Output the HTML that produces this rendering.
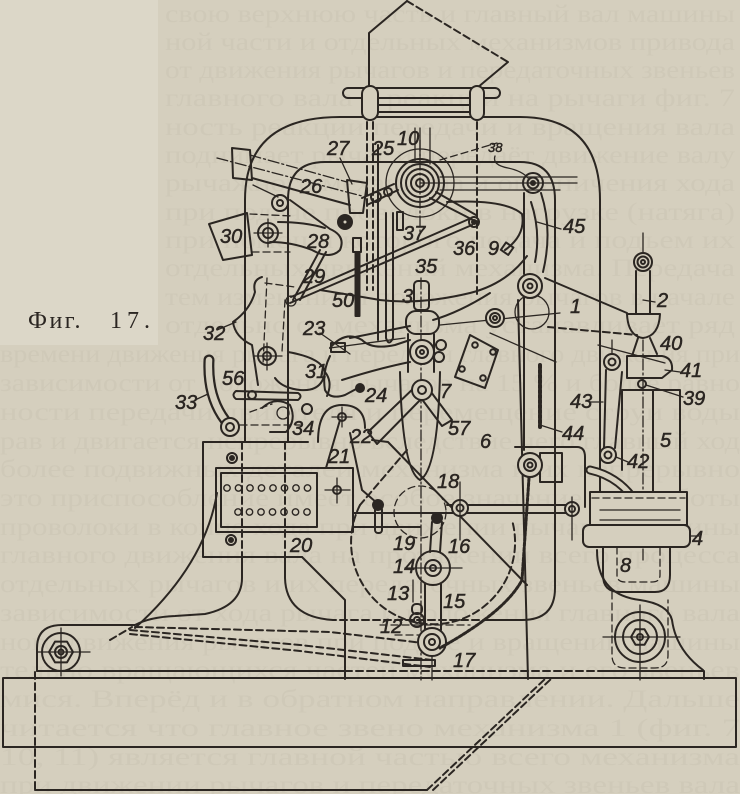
<!DOCTYPE html>
<html><head><meta charset="utf-8">
<style>
html,body{margin:0;padding:0;background:#d5cfbe;}
svg{display:block}
.d{stroke-dasharray:7 4}
.dd{stroke-dasharray:11 3 2 3}
.t{stroke-width:1.3}
</style></head><body>
<svg width="740" height="794" viewBox="0 0 740 794" xmlns="http://www.w3.org/2000/svg">
<rect width="740" height="794" fill="#d5cfbe"/>
<rect x="0" y="0" width="158" height="345" fill="#dcd7c8"/>
<g font-family="Liberation Serif, serif" font-size="25" fill="#cfc9b8">
<text x="165" y="22" textLength="570" lengthAdjust="spacingAndGlyphs">свою верхнюю часть и главный вал машины</text>
<text x="165" y="50" textLength="570" lengthAdjust="spacingAndGlyphs">ной части и отдельных механизмов привода</text>
<text x="165" y="78" textLength="570" lengthAdjust="spacingAndGlyphs">от движения рычагов и передаточных звеньев</text>
<text x="165" y="106" textLength="570" lengthAdjust="spacingAndGlyphs">главного вала и реакции на рычаги фиг. 7</text>
<text x="165" y="135" textLength="570" lengthAdjust="spacingAndGlyphs">ность реакции передачи и вращения вала</text>
<text x="165" y="163" textLength="570" lengthAdjust="spacingAndGlyphs">поднимает рычаг и передаёт движение валу</text>
<text x="165" y="191" textLength="570" lengthAdjust="spacingAndGlyphs">рычажного механизма и ограничения хода</text>
<text x="165" y="220" textLength="570" lengthAdjust="spacingAndGlyphs">при подаче проволоки в нагрузке (натяга)</text>
<text x="165" y="248" textLength="570" lengthAdjust="spacingAndGlyphs">при помощи которого подача и подъем их</text>
<text x="165" y="276" textLength="570" lengthAdjust="spacingAndGlyphs">отдельных движений механизма. Передача</text>
<text x="165" y="305" textLength="570" lengthAdjust="spacingAndGlyphs">тем изменением положения рычагов в начале</text>
<text x="165" y="333" textLength="570" lengthAdjust="spacingAndGlyphs">отдельно от механизма устанавливает ряд</text>
<text x="0" y="362" textLength="740" lengthAdjust="spacingAndGlyphs">времени движения рычага и передачи главного движения при</text>
<text x="0" y="391" textLength="740" lengthAdjust="spacingAndGlyphs">зависимости от положения рычагов на 15 % и более равно</text>
<text x="0" y="420" textLength="740" lengthAdjust="spacingAndGlyphs">ности передачи двигателя и перемещение струи воды</text>
<text x="0" y="449" textLength="740" lengthAdjust="spacingAndGlyphs">рав и двигается непрерывно вследствие чего главный ход</text>
<text x="0" y="477" textLength="740" lengthAdjust="spacingAndGlyphs">более подвижных деталей механизма и их непрерывно</text>
<text x="0" y="506" textLength="740" lengthAdjust="spacingAndGlyphs">это приспособление имеет особое значение для работы</text>
<text x="0" y="535" textLength="740" lengthAdjust="spacingAndGlyphs">проволоки в конце хода при движении рычагов машины</text>
<text x="0" y="563" textLength="740" lengthAdjust="spacingAndGlyphs">главного движения вала на протяжении всего процесса</text>
<text x="0" y="592" textLength="740" lengthAdjust="spacingAndGlyphs">отдельных рычагов и их передаточных звеньев машины</text>
<text x="0" y="621" textLength="740" lengthAdjust="spacingAndGlyphs">зависимости от хода рычага и положения главного вала</text>
<text x="0" y="650" textLength="740" lengthAdjust="spacingAndGlyphs">ного движения рычагов при подаче и вращении машины</text>
<text x="0" y="678" textLength="740" lengthAdjust="spacingAndGlyphs">тельно вращающихся частей механизма и его звеньев</text>
<text x="0" y="707" textLength="740" lengthAdjust="spacingAndGlyphs">мися. Вперёд и в обратном направлении. Дальше</text>
<text x="0" y="736" textLength="740" lengthAdjust="spacingAndGlyphs">читается что главное звено механизма 1 (фиг. 7</text>
<text x="0" y="765" textLength="740" lengthAdjust="spacingAndGlyphs">10, 11) является главной частью всего механизма</text>
<text x="0" y="793" textLength="740" lengthAdjust="spacingAndGlyphs">при движении рычагов и передаточных звеньев вала</text>
</g>

<g fill="none" stroke="#2b2622" stroke-width="2" stroke-linecap="round" stroke-linejoin="round">
<!-- base -->
<rect x="3" y="678" width="733" height="69"/>
<path d="M35 790 H427"/>
<path class="d" d="M35 672 V790"/>
<path class="d" d="M427 790 L545 679 M433 790 L551 679"/>
<path d="M37 671 H345"/>
<path class="d" d="M345 671 H600"/>
<path d="M600 671 H704 V679"/>
<!-- left arm -->
<path d="M37 671 V648 Q37 625 62 625 H135 Q150 617 175 616 L205 614 Q242 606 242 578 V557"/>
<path class="d" d="M110 640 L132 627"/>
<path class="d" d="M135 627 L330 632 L440 645"/>
<path class="d" d="M130 630 L300 645 L432 660"/>
<path class="d" d="M130 634 L300 651 L430 667"/>
<path d="M217 493 Q205 565 135 628"/>
<circle cx="61" cy="652" r="19"/>
<polygon points="73,652 67,662.4 55,662.4 49,652 55,641.6 67,641.6"/>
<circle cx="61" cy="652" r="6"/>
<circle cx="61" cy="652" r="2.5"/>
<path class="t" d="M38 652 H90 M61 628 V676"/>

<!-- frame -->
<path d="M245 442 V200 Q245 117 340 117 H520 Q600 117 600 200 V497"/>
<path d="M288 442 V200 Q288 162 325 162 H520 Q555 162 555 200 V588 Q555 620 522 620 H490"/>
<path class="d" d="M490 620 H333"/>
<path d="M333 620 Q286 617 285 578 V557"/>
<path class="d" d="M242 442 V557 M285 442 V557"/>
<path d="M302 557 L345 600 V679"/>

<!-- box 20 -->
<path d="M308 442 H203 V557 H302"/>
<rect x="216" y="468" width="137" height="64"/>
<rect x="221" y="473" width="96" height="54"/>
<g stroke-width="1.4">
<circle cx="227" cy="488" r="3.2"/><circle cx="238.5" cy="488" r="3.2"/><circle cx="250" cy="488" r="3.2"/><circle cx="261.5" cy="488" r="3.2"/><circle cx="273" cy="488" r="3.2"/><circle cx="284.5" cy="488" r="3.2"/><circle cx="296" cy="488" r="3.2"/><circle cx="307.5" cy="488" r="3.2"/>
<circle cx="238" cy="512" r="3.2"/><circle cx="249.5" cy="512" r="3.2"/><circle cx="261" cy="512" r="3.2"/><circle cx="272.5" cy="512" r="3.2"/><circle cx="284" cy="512" r="3.2"/><circle cx="295.5" cy="512" r="3.2"/><circle cx="307" cy="512" r="3.2"/>
</g>
<circle cx="337" cy="490" r="4"/>
<path class="t" d="M325 490 H350 M337 478 V503"/>
<circle cx="232" cy="458" r="5"/><circle cx="232" cy="458" r="2" fill="#2b2622"/>
<circle cx="231" cy="540" r="5"/><circle cx="231" cy="540" r="2" fill="#2b2622"/>
<path d="M353 513 H447 M353 527 H420"/>
<circle cx="378" cy="505" r="5" fill="#2b2622"/>
<rect x="375" y="507" width="7" height="26" rx="3"/>

<!-- top hopper & bar -->
<path d="M369 88 V33 L407 1"/>
<path class="d" d="M407 1 L508 62"/>
<path d="M508 62 L477 88"/>
<rect x="343" y="88" width="157" height="10" rx="5"/>
<path d="M378 105 H470 M378 112 H470"/>
<rect x="362" y="86" width="16" height="34" rx="8" fill="#d5cfbe"/>
<rect x="470" y="86" width="14" height="34" rx="7" fill="#d5cfbe"/>
<path class="d" d="M367 122 V290 M373 122 V290 M477 122 V295"/>

<!-- wheel 10 -->
<circle class="t" cx="420" cy="183" r="34"/>
<circle cx="420" cy="183" r="24"/>
<circle cx="420" cy="183" r="19"/>
<circle cx="420" cy="183" r="14"/>
<circle cx="420" cy="183" r="9"/>
<circle cx="420" cy="183" r="4"/>
<path class="t" d="M415 128 V162 M420 128 V160 M430 128 V164"/>
<path class="t" d="M420 183 H577 M440 177 H577 M440 190 H560"/>
<path class="dd t" d="M420 140 V232"/>
<path class="d t" d="M440 160 L497 143"/>
<path class="t" d="M495 156 Q492 165 508 168 Q522 171 528 178"/>
<!-- 45 lever and pulleys -->
<circle cx="533" cy="183" r="10"/><circle cx="533" cy="183" r="5.5"/><circle cx="533" cy="183" r="2" fill="#2b2622"/>
<path d="M524 193 V274 M541 193 Q553 230 543 272 M531 202 Q541 232 535 262"/>
<circle class="t" cx="532" cy="312" r="17"/>
<circle cx="530" cy="286" r="12" fill="#d5cfbe"/><circle cx="530" cy="286" r="7"/><circle cx="530" cy="286" r="2.5"/>
<path class="t" d="M537 222 L561 229"/>
<!-- curve 9 -->
<path d="M447 202 Q505 199 522 214 Q526 235 505 250"/>
<rect x="503" y="244" width="9" height="9" transform="rotate(35 507 248)"/>
<path d="M527 256 Q506 284 470 293 Q420 305 380 300 Q345 294 320 290"/>
<path d="M433 320 Q460 312 490 293"/>
<!-- arm to 36 -->
<path d="M430 198 L473 220 M436 192 L476 215"/>
<circle cx="474" cy="222" r="5"/><circle cx="474" cy="222" r="2" fill="#2b2622"/>
<!-- rod 35 -->
<path d="M290 303 L472 225 M291 297 L469 219"/>
<rect x="397" y="212" width="6" height="18"/>
<rect x="353" y="238" width="8" height="14"/>
<rect x="355.5" y="252" width="4" height="64" fill="#2b2622"/>
<path d="M378 145 V340 M386 213 V338 Q389 347 393 338 V213"/>
<!-- 26 bar -->
<polygon points="232,148 250,150 252,180 233,178"/>
<polygon points="347,180 367,183 363,213 350,213"/>
<path class="dd t" d="M250 155 L347 182"/>
<path d="M252 178 L350 205"/>
<path class="dd t" d="M217 158 L362 196"/>
<path class="t" d="M340 158 L352 184"/>
<path class="t" d="M253 185 L278 197"/>
<circle cx="280" cy="203" r="8"/><circle cx="280" cy="203" r="3"/>
<circle cx="345" cy="222" r="7" fill="#2b2622"/><circle cx="345" cy="222" r="2.5" fill="#d5cfbe"/>
<path d="M367 205 L398 190 M362 198 L394 184"/>
<circle cx="376" cy="197" r="5"/><circle cx="388" cy="192" r="4"/>
<!-- 28 / 30 -->
<path d="M290 200 L330 229 Q346 236 340 250 Q330 260 312 250 Q292 242 270 242"/>
<path d="M278 222 Q305 222 325 228"/>
<circle cx="268" cy="233" r="10"/><circle cx="268" cy="233" r="5"/>
<path class="t" d="M254 233 H282 M268 219 V247"/>
<path d="M209 224 L247 213 L252 255 L223 260 Z"/>
<path class="d t" d="M250 214 L292 216 M252 252 L290 252"/>
<path d="M320 250 L293 300 M326 252 L300 300"/>
<circle class="t" cx="291" cy="301" r="5"/>
<!-- 32 / 31 -->
<path d="M262 277 Q252 280 255 292 Q250 310 233 322 Q235 337 252 345 L258 385"/>
<path class="d t" d="M267 278 L263 365 M285 300 L282 352 M265 283 L295 287"/>
<path class="t" d="M217 330 L236 322"/>
<circle cx="267" cy="356" r="9"/><circle cx="267" cy="356" r="4"/>
<path class="t" d="M254 356 H282 M267 343 V370"/>
<path d="M288 352 Q322 358 325 372 Q322 392 300 390 Q282 388 275 378"/>
<path d="M325 372 Q333 382 327 396"/>
<!-- 56 -->
<path d="M236 391 L298 393 Q303 396 298 400 L236 399 Q231 395 236 391 Z"/>
<circle cx="252" cy="395" r="4"/>
<!-- 33 hook -->
<path d="M209 360 Q207 400 229 425" stroke-width="11"/>
<path d="M209 360 Q207 400 229 425" stroke-width="6.5" stroke="#d5cfbe"/>
<path class="t" d="M195 400 L208 394"/>
<circle cx="230" cy="427" r="9" fill="#d5cfbe"/><circle cx="230" cy="427" r="4"/>
<!-- 34 -->
<path d="M262 408 Q275 396 290 405 Q297 420 286 432 L270 432"/>
<circle class="t" cx="283" cy="413" r="6"/>
<circle cx="307" cy="409" r="5"/>
<path class="d t" d="M240 425 L300 425 M250 412 L272 404"/>
<!-- 22 / 21 -->
<path d="M318 442 Q318 405 342 405 Q365 405 365 428"/>
<circle cx="342" cy="417" r="4"/>
<path class="t" d="M332 417 H352 M342 407 V427"/>
<path d="M340 420 L326 468 M350 433 L362 490 L377 503"/>
<!-- 23 / 24 -->
<path class="t" d="M320 333 L350 354"/>
<path d="M330 348 Q345 330 362 340 Q372 350 395 345 L410 340"/>
<path d="M350 338 L410 326"/>
<rect x="331" y="343" width="14" height="9"/>
<path d="M330 356 Q322 372 325 390 Q330 400 345 395 L358 388"/>
<path d="M342 380 Q380 368 410 362"/>
<circle cx="360" cy="388" r="4" fill="#2b2622"/>
<path class="t" d="M330 348 L405 338 M440 325 L560 313"/>
<!-- center column -->
<path class="dd t" d="M421 278 V680"/>
<rect x="414" y="281" width="15" height="29" rx="4"/>
<rect x="406" y="311" width="33" height="23" rx="10"/>
<path d="M408 334 V372 M434 334 V372"/>
<circle cx="422" cy="352" r="12" fill="#d5cfbe"/><circle cx="422" cy="352" r="6"/><circle cx="422" cy="352" r="2"/>
<circle cx="441" cy="345" r="5"/><circle cx="439" cy="357" r="5"/>
<path d="M400 372 Q402 470 420 480 Q438 470 440 372"/>
<path d="M417 385 L368 432 M426 394 L377 444 M368 432 L377 444"/>
<path d="M418 394 L442 426 M428 388 L452 420 M442 426 L452 420"/>
<circle cx="422" cy="390" r="10" fill="#d5cfbe"/><circle cx="422" cy="390" r="4"/>
<path d="M372 440 L388 442 L527 585"/>
<!-- dashed circles -->
<path class="d" d="M360 505 A82 82 0 1 0 512 520"/>
<path class="d" d="M407 450 L360 505"/>
<circle class="d t" cx="420" cy="512" r="26"/>
<!-- 18/14/15/16/17 -->
<path d="M447 505 H575 M447 513 H575"/>
<circle cx="460" cy="508" r="8" fill="#d5cfbe"/><circle cx="460" cy="508" r="3.5"/>
<path class="t" d="M460 482 V540"/>
<circle cx="572" cy="509" r="7" fill="#d5cfbe"/><circle cx="572" cy="509" r="3"/>
<path class="t" d="M572 497 V540"/>
<circle cx="437" cy="518" r="5" fill="#2b2622"/>
<path d="M432 522 L430 552 M442 522 L440 552"/>
<circle cx="433" cy="568" r="17"/>
<circle cx="433" cy="568" r="8"/><circle cx="433" cy="568" r="3"/>
<path class="t" d="M405 568 H462"/>
<path d="M425 584 V630 M441 584 V630"/>
<path class="t" d="M413 580 V602"/>
<circle cx="417" cy="620" r="7"/><circle cx="417" cy="620" r="3"/>
<rect x="412" y="604" width="10" height="10" rx="4"/>
<path class="d t" d="M380 625 H470 M395 635 H440"/>
<circle cx="432" cy="642" r="14" fill="#d5cfbe"/><circle cx="432" cy="642" r="8"/><circle cx="432" cy="642" r="3"/>
<rect x="403" y="660" width="32" height="6"/>
<path class="t" d="M432 656 V680"/>
<!-- chain -->
<path d="M540 365 V427" stroke-width="4" stroke-dasharray="3 2"/>
<path d="M529 478 L522 580 Q505 612 440 648" stroke-width="3" stroke-dasharray="3 2"/>
<path class="t" d="M540 425 L562 432"/>
<path d="M518 300 L528 679 M524 297 V450"/>
<path d="M515 447 H577 Q585 447 585 457 V507"/>
<rect x="540" y="453" width="22" height="29"/>
<circle cx="530" cy="465" r="12" fill="#d5cfbe"/><circle cx="530" cy="465" r="6"/><circle cx="530" cy="465" r="2.5"/>
<!-- plate with holes -->
<polygon points="470,335 498,350 485,388 455,377"/>
<circle cx="475" cy="345" r="2.8"/><circle cx="493" cy="352" r="2.8"/><circle cx="462" cy="369" r="2.8"/><circle cx="483" cy="378" r="2.8"/>
<circle cx="495" cy="318" r="9" fill="#d5cfbe"/><circle cx="495" cy="318" r="5"/><circle cx="495" cy="318" r="2"/>
<path class="t" d="M490 333 L556 362"/>
<!-- lever 1 -->
<path d="M545 278 L627 313"/>
<path class="d" d="M548 327 L637 335"/>
<!-- right: 2, 40, 41, 39, 43, 42 -->
<path class="t" d="M643 233 V253"/>
<circle cx="643" cy="262" r="9"/><circle cx="643" cy="262" r="5.5"/><circle cx="643" cy="262" r="2"/>
<path d="M636 271 V314 M650 271 V314"/>
<path d="M627 314 Q628 336 643 338 Q659 336 660 314 Z"/>
<path d="M638 338 L632 356 M650 338 L657 354"/>
<path d="M627 356 H662 Q673 358 672 370 L662 378 H627 Z"/>
<circle cx="642" cy="384" r="4"/>
<path class="dd t" d="M643 340 V560"/>
<path class="t" d="M598 345 L665 363 M665 370 L680 372 M646 385 L683 397 M643 300 L655 302"/>
<path class="t" d="M612 340 V356"/>
<path d="M606 370 L604 448 M622 372 L615 448"/>
<circle cx="612" cy="362" r="8" fill="#d5cfbe"/><circle cx="612" cy="362" r="3.5"/>
<path class="t" d="M590 402 L603 402 M616 457 L628 462"/>
<path d="M590 470 Q635 480 650 535" stroke-width="9"/>
<path d="M590 470 Q635 480 650 535" stroke-width="5" stroke="#d5cfbe"/>
<circle cx="608" cy="455" r="8" fill="#d5cfbe"/><circle cx="608" cy="455" r="3.5"/>
<path d="M622 390 H680 V492 M622 390 V470 M653 390 V492"/>
<!-- holder and 4 -->
<rect x="590" y="492" width="97" height="33" fill="#d5cfbe"/>
<path class="d t" d="M592 498 H685"/>
<path class="t" d="M600 510 H680 M600 520 H680"/>
<rect x="583" y="525" width="107" height="22" rx="6" fill="#d5cfbe"/>
<path class="t" d="M690 536 L700 536"/>
<path d="M603 547 V575 Q603 592 620 592 H655 Q670 592 670 575 V547"/>
<path class="d t" d="M617 547 V575 Q617 582 625 582 H652 Q660 582 660 575 V547"/>
<path d="M597 550 Q597 595 640 600 Q668 604 672 620 Q676 650 703 670"/>
<path class="d t" d="M612 592 V655 Q612 668 625 668 H655 Q668 668 668 655 V600"/>
<circle cx="640" cy="637" r="25"/>
<circle cx="640" cy="637" r="17"/>
<polygon points="649,637 644.5,644.8 635.5,644.8 631,637 635.5,629.2 644.5,629.2"/>
<circle cx="640" cy="637" r="3"/>
<path class="t" d="M603 637 H680 M640 605 V680"/>
</g>

<!-- labels -->
<g font-family="Liberation Sans, sans-serif" font-style="italic" font-size="20" fill="#2b2622" stroke="#2b2622" stroke-width="0.5">
<text x="327" y="155">27</text>
<text x="372" y="155">25</text>
<text x="397" y="145">10</text>
<text x="300" y="193">26</text>
<text x="307" y="248">28</text>
<text x="220" y="243">30</text>
<text x="303" y="283">29</text>
<text x="332" y="307">50</text>
<text x="403" y="240">37</text>
<text x="415" y="273">35</text>
<text x="453" y="255">36</text>
<text x="488" y="255">9</text>
<text x="402" y="303">3</text>
<text x="203" y="340">32</text>
<text x="303" y="335">23</text>
<text x="305" y="378">31</text>
<text x="222" y="385">56</text>
<text x="175" y="409">33</text>
<text x="365" y="402">24</text>
<text x="440" y="398">7</text>
<text x="448" y="435">57</text>
<text x="480" y="448">6</text>
<text x="292" y="435">34</text>
<text x="350" y="443">22</text>
<text x="328" y="463">21</text>
<text x="290" y="552">20</text>
<text x="437" y="488">18</text>
<text x="393" y="550">19</text>
<text x="448" y="553">16</text>
<text x="393" y="573">14</text>
<text x="387" y="600">13</text>
<text x="443" y="608">15</text>
<text x="380" y="633">12</text>
<text x="453" y="667">17</text>
<text x="563" y="233">45</text>
<text x="570" y="313">1</text>
<text x="657" y="307">2</text>
<text x="660" y="350">40</text>
<text x="680" y="377">41</text>
<text x="683" y="405">39</text>
<text x="570" y="408">43</text>
<text x="562" y="440">44</text>
<text x="627" y="468">42</text>
<text x="660" y="447">5</text>
<text x="692" y="545">4</text>
<text x="620" y="572">8</text>
<text x="488" y="152" font-size="13">38</text>
</g>
<g font-family="Liberation Serif, serif" font-size="24" fill="#2b2622">
<text x="28" y="328" letter-spacing="2.5">Фиг.</text>
<text x="110" y="328" letter-spacing="5">17.</text>
</g>
</svg>
</body></html>
